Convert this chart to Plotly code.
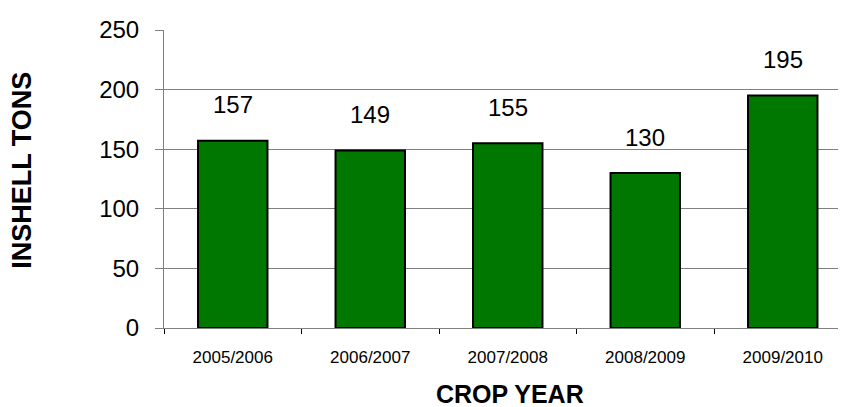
import plotly.graph_objects as go

categories = ["2005/2006", "2006/2007", "2007/2008", "2008/2009", "2009/2010"]
tons = [157, 149, 155, 130, 195]
y_ticks = [0, 50, 100, 150, 200, 250]

FONT = "Arial, Liberation Sans, sans-serif"

fig = go.Figure()
fig.add_trace(go.Bar(
    x=categories, y=tons,
    marker=dict(color="#007800", line=dict(color="#000000", width=2)),
    width=0.505,
    hoverinfo="skip",
))

annotations = []
for c, v in zip(categories, tons):
    annotations.append(dict(
        x=c, y=v, xref="x", yref="y", text=str(v), showarrow=False,
        yanchor="middle", xanchor="center", yshift=36,
        font=dict(family=FONT, size=24, color="#000000"),
    ))
annotations.append(dict(
    x=-0.2082, y=0.528, xref="paper", yref="paper", text="<b>INSHELL TONS</b>",
    showarrow=False, textangle=-90, xanchor="center", yanchor="middle",
    font=dict(family=FONT, size=27, color="#000000"),
))
annotations.append(dict(
    x=0.507, y=-0.222, xref="paper", yref="paper", text="<b>CROP YEAR</b>",
    showarrow=False, xanchor="center", yanchor="middle",
    font=dict(family=FONT, size=25, color="#000000"),
))

fig.update_layout(
    width=846, height=407,
    margin=dict(l=156, r=8, t=16, b=87),
    paper_bgcolor="white", plot_bgcolor="white",
    showlegend=False,
    annotations=annotations,
    xaxis=dict(
        type="category", range=[-0.5, 4.46],
        showline=True, linecolor="#808080", linewidth=1,
        ticks="outside", ticklen=5, tickcolor="#000000", tickwidth=1,
        tickson="boundaries",
        showgrid=False,
        tickfont=dict(family=FONT, size=17, color="#000000"),
        ticklabelstandoff=14,
    ),
    yaxis=dict(
        range=[0, 250], tickvals=y_ticks,
        showline=True, linecolor="#808080", linewidth=1,
        ticks="outside", ticklen=8, tickcolor="#808080", tickwidth=1,
        showgrid=True, gridcolor="#808080", gridwidth=1,
        zeroline=False,
        tickfont=dict(family=FONT, size=24, color="#000000"),
        ticklabelstandoff=11,
    ),
)

fig.write_html("out.html")
